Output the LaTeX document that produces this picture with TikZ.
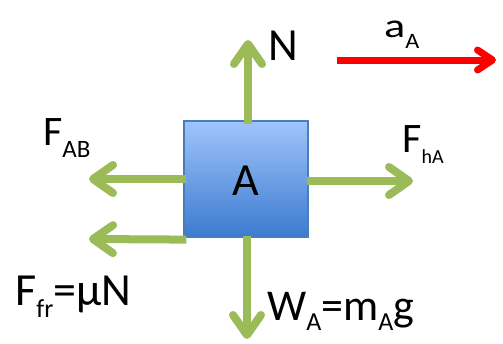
\documentclass[tikz,border=0pt]{standalone}
\usepackage{fontspec}
\setmainfont{Carlito}
\usetikzlibrary{arrows.meta}
\definecolor{grn}{HTML}{9BBB59}
\definecolor{boxtop}{HTML}{A0C4FA}
\definecolor{boxbot}{HTML}{3C7BD0}
\definecolor{boxline}{HTML}{4A7EBB}
\newcommand{\lowsub}[3]{\raisebox{-#1pt}{\fontsize{#2}{#2}\selectfont #3}}
\begin{document}
\begin{tikzpicture}[x=1pt,y=-1pt,
  force/.style={draw=grn, line width=8pt, -{Straight Barb[round,length=20pt,width=28pt]}},
  accel/.style={draw=red, line width=7pt, -{Straight Barb[round,length=15pt,width=20pt]}},
  lbl/.style={inner sep=0pt, anchor=base west, text=black}]
\useasboundingbox (0,0) rectangle (503,343);
\node[draw=boxline, line width=1.2pt, top color=boxtop, bottom color=boxbot,
  minimum width=124pt, minimum height=116pt, inner sep=0pt] (box) at (246,179) {};
\node[inner sep=0pt, anchor=base] (lblA) at (246,195) {\fontsize{46}{46}\selectfont A};
% free ends
\coordinate (tN) at (248,40);
\coordinate (tW) at (247,339);
\coordinate (tAB) at (89,179);
\coordinate (tfr) at (89,239);
\coordinate (thA) at (413,181);
\coordinate (aS) at (337,60);
\coordinate (aE) at (496,60);
\draw[force] ([xshift=2pt,yshift=-4pt]box.north) -- (tN);
\draw[force] ([xshift=1pt,yshift=2pt]box.south) -- (tW);
\draw[force] ([xshift=3pt]box.west) -- (tAB);
\draw[force] ([xshift=3pt,yshift=-2pt]box.south west) -- (tfr);
\draw[force] ([xshift=-2pt,yshift=-2pt]box.east) -- (thA);
\draw[accel] (aS) -- (aE);
% labels
\node[lbl] (N) at (268,60) {\fontsize{46}{46}\selectfont N};
\node[lbl] (aA) at (384,37) {\fontsize{34}{34}\selectfont \scalebox{1.3}[1]{a}\lowsub{11}{22}{\scalebox{1.1}[1]{A}}};
\node[lbl] (FAB) at (43,145) {\fontsize{42}{42}\selectfont F\lowsub{12}{25}{AB}};
\node[lbl] (FhA) at (402,152) {\fontsize{42}{42}\selectfont F\lowsub{11}{20}{hA}};
\node[lbl] (Ffr) at (15,305) {\fontsize{46}{46}\selectfont F\lowsub{12}{26}{fr}=μN};
\node[lbl] (WA) at (267,320) {\fontsize{44}{44}\selectfont W\lowsub{10}{26}{A}=m\lowsub{10}{26}{A}g};
\end{tikzpicture}
\end{document}
